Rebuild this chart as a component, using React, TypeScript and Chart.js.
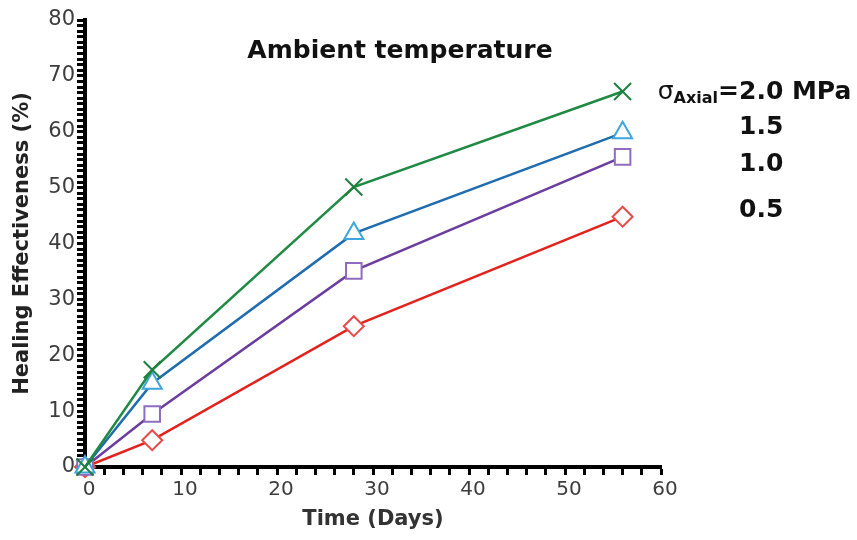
import React, { useEffect, useRef } from 'react';
import { Chart, registerables } from 'chart.js';

Chart.register(...registerables);

// ---- data ----
const days = [0, 7, 28, 56];
const stress20 = [0, 17.4, 50.1, 67.2];
const stress15 = [0, 15.0, 41.8, 59.8];
const stress10 = [0, 9.5, 35.1, 55.5];
const stress05 = [0, 4.8, 25.2, 44.8];
const stressLabels = ['2.0', '1.5', '1.0', '0.5'];
const stressUnit = 'MPa';
const chartTitle = 'Ambient temperature';
const xTitle = 'Time (Days)';
const yTitle = 'Healing Effectiveness (%)';
const xMin = 0;
const xMax = 60;
const xMinorStep = 2;
const yMin = 0;
const yMax = 80;
const yMinorStep = 1;
const labelEvery = 10;

const FONT = '"DejaVu Sans", "Liberation Sans", Arial, sans-serif';

const seriesList = [
  { name: '2.0', values: stress20, line: '#1f8a43', point: '#1f7f3f', style: 'crossRot', radius: 12 },
  { name: '1.5', values: stress15, line: '#1f6cae', point: '#3ea5dd', style: 'triangle', radius: 11 },
  { name: '1.0', values: stress10, line: '#6a3d9e', point: '#8e6cbf', style: 'rect', radius: 11 },
  { name: '0.5', values: stress05, line: '#e2231d', point: '#e84a4b', style: 'rectRot', radius: 10 },
];

const annotPlugin = {
  id: 'annotText',
  afterDraw(chart: any) {
    const { ctx, chartArea, scales } = chart;
    const ys = scales.y;
    // vertical placement of the right-hand labels, in y-axis units
    const labelRows = [67.5, 61.2, 54.6, 46.4];
    ctx.save();
    ctx.fillStyle = '#111';
    ctx.textBaseline = 'alphabetic';
    ctx.font = `bold 25px ${FONT}`;
    ctx.textAlign = 'center';
    ctx.fillText(chartTitle, (chartArea.left + chartArea.right) / 2 + 27, chartArea.top + 38);

    const x0 = chartArea.right + 78;
    seriesList.forEach((s, i) => {
      const base = ys.getPixelForValue(labelRows[i]) + 9;
      ctx.font = `bold 25px ${FONT}`;
      ctx.textAlign = 'left';
      const txt = i === 0 ? `${stressLabels[i]} ${stressUnit}` : stressLabels[i];
      ctx.fillText(txt, x0, base);
      if (i === 0) {
        ctx.textAlign = 'right';
        ctx.fillText('=', x0, base);
        const eqW = ctx.measureText('=').width;
        ctx.font = `bold 16px ${FONT}`;
        ctx.fillText('Axial', x0 - eqW, base + 4);
        const aw = ctx.measureText('Axial').width;
        ctx.font = `25px ${FONT}`;
        ctx.fillText('σ', x0 - eqW - aw, base);
      }
    });
    ctx.restore();
  },
};

function buildTicks(min: number, max: number, step: number) {
  const t: { value: number }[] = [];
  for (let v = min; v <= max + 1e-9; v += step) t.push({ value: v });
  return t;
}

export default function App() {
  const ref = useRef<HTMLCanvasElement | null>(null);

  useEffect(() => {
    if (!ref.current) return;
    const chart = new Chart(ref.current, {
      type: 'line',
      data: {
        datasets: seriesList.map((s) => ({
          label: s.name,
          data: days.map((d, i) => ({ x: d, y: s.values[i] })),
          borderColor: s.line,
          borderWidth: 2.5,
          pointStyle: s.style as any,
          pointRadius: s.radius,
          pointBorderColor: s.point,
          pointBackgroundColor: '#ffffff',
          pointBorderWidth: 2,
          tension: 0,
          clip: false as any,
        })),
      },
      options: {
        responsive: false,
        animation: false,
        devicePixelRatio: 1,
        layout: { padding: { top: 20, right: 196, left: 0, bottom: 0 } },
        plugins: {
          legend: { display: false },
          tooltip: { enabled: false },
          title: { display: false },
        },
        scales: {
          x: {
            type: 'linear',
            min: xMin,
            max: xMax,
            afterBuildTicks: (s: any) => {
              s.ticks = buildTicks(xMin, xMax, xMinorStep);
            },
            afterFit: (s: any) => {
              s.height = 73;
            },
            ticks: {
              autoSkip: false,
              maxRotation: 0,
              padding: 3,
              labelOffset: 4,
              color: '#3d3d3d',
              font: { family: FONT, size: 20 },
              callback: (v: any) => (Number(v) % labelEvery === 0 ? String(v) : ''),
            },
            grid: {
              drawOnChartArea: false,
              drawTicks: true,
              tickLength: 8,
              tickWidth: 3,
              color: '#000',
            },
            border: { display: true, color: '#000', width: 4 },
            title: {
              display: true,
              text: xTitle,
              color: '#333',
              font: { family: FONT, size: 21, weight: 'bold' },
              padding: { top: 0, bottom: 8 },
            },
          },
          y: {
            type: 'linear',
            min: yMin,
            max: yMax,
            afterBuildTicks: (s: any) => {
              s.ticks = buildTicks(yMin, yMax, yMinorStep);
            },
            afterFit: (s: any) => {
              s.width = 85;
            },
            ticks: {
              autoSkip: false,
              padding: 2,
              color: '#3d3d3d',
              font: { family: FONT, size: 21 },
              callback: (v: any) => (Number(v) % labelEvery === 0 ? String(v) : ''),
            },
            grid: {
              drawOnChartArea: false,
              drawTicks: true,
              tickLength: 8,
              tickWidth: 3,
              color: '#000',
            },
            border: { display: true, color: '#000', width: 4 },
            title: {
              display: true,
              text: yTitle,
              color: '#222',
              font: { family: FONT, size: 21, weight: 'bold' },
              padding: { top: 10, bottom: 0 },
            },
          },
        },
      },
      plugins: [annotPlugin],
    });
    return () => chart.destroy();
  }, []);

  return (
    <div style={{ position: 'absolute', left: 0, top: 0, width: 857, height: 540, background: '#fff' }}>
      <canvas ref={ref} width={857} height={540} style={{ display: 'block' }} />
    </div>
  );
}
